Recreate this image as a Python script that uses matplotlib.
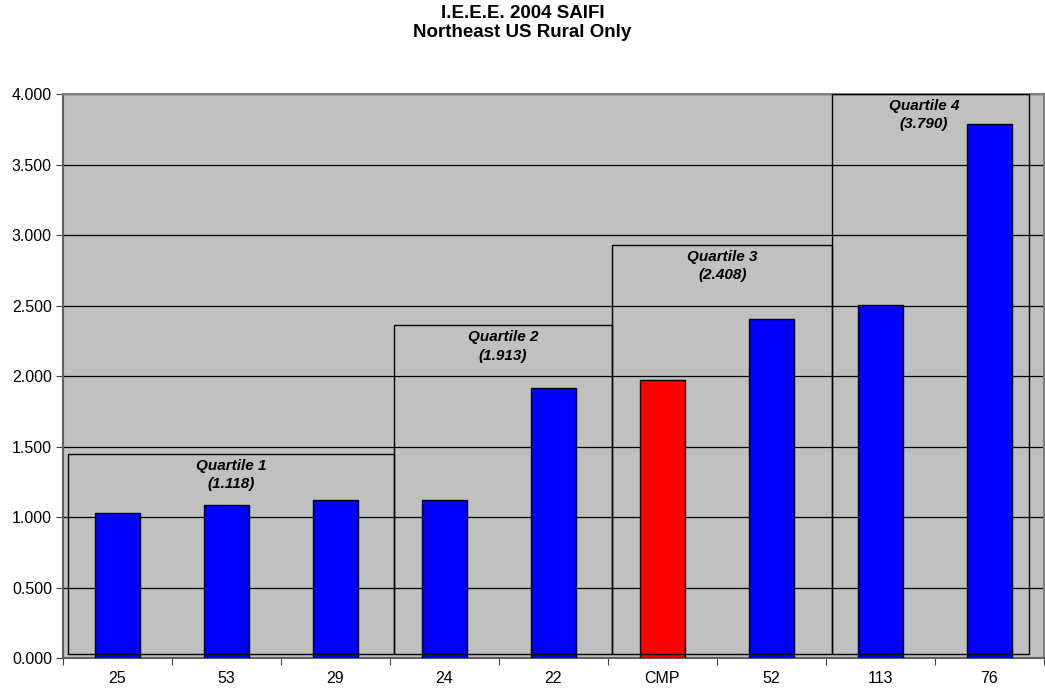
import matplotlib.pyplot as plt
from matplotlib.patches import Rectangle

plt.rcParams['font.family'] = ['Liberation Sans', 'DejaVu Sans']

# SAIFI values by utility
utilities = ['25', '53', '29', '24', '22', 'CMP', '52', '113', '76']
saifi = [1.028, 1.085, 1.118, 1.120, 1.913, 1.975, 2.408, 2.505, 3.790]
bar_colors = ['#0000FF'] * 9
bar_colors[5] = '#FF0000'

# quartile boxes: name, value, x start, x end, top
quartile_names = ['Quartile 1', 'Quartile 2', 'Quartile 3', 'Quartile 4']
quartile_values = [1.118, 1.913, 2.408, 3.790]
box_left = [-0.454, 2.534, 4.54, 6.557]
box_right = [2.534, 4.54, 6.557, 8.36]
box_top = [1.447, 2.36, 2.93, 4.0]
box_bottom = 0.03

fig = plt.figure(figsize=(10.45, 6.92), dpi=100)
ax = fig.add_axes([0.0603, 0.0491, 0.9387, 0.8149])
ax.set_facecolor('#C0C0C0')

x = list(range(len(utilities)))
ax.bar(x, saifi, width=0.41, color=bar_colors, edgecolor='black', linewidth=1, zorder=3)

for i in range(len(quartile_names)):
    r = Rectangle((box_left[i], box_bottom), box_right[i] - box_left[i], box_top[i] - box_bottom,
                  fill=False, edgecolor='black', linewidth=1, zorder=4)
    ax.add_patch(r)
    cx = (box_left[i] + box_right[i]) / 2
    if i == 3:
        cx = 7.4
    ax.text(cx, box_top[i] - 0.035, quartile_names[i] + '\n(%.3f)' % quartile_values[i],
            ha='center', va='top', fontsize=11, fontweight='bold', fontstyle='italic',
            linespacing=1.4, zorder=5)

ax.set_xlim(-0.5, 8.5)
ax.set_ylim(0, 4)
ax.set_yticks([i * 0.5 for i in range(9)])
ax.set_yticklabels(['%.3f' % (i * 0.5) for i in range(9)], fontsize=11.5)
ax.yaxis.grid(True, color='black', linewidth=0.9, zorder=0)
ax.set_axisbelow(True)

ax.set_xticks([i + 0.5 for i in range(-1, 9)])
ax.set_xticklabels([])
ax.set_xticks(x, minor=True)
ax.set_xticklabels(utilities, minor=True, fontsize=11.5)
ax.tick_params(axis='x', which='minor', length=0, pad=9)
ax.tick_params(axis='x', which='major', length=5, color='#404040', direction='out')
ax.tick_params(axis='y', length=5, color='#404040', direction='out', pad=3)

for s in ['top', 'right']:
    ax.spines[s].set_color('#808080')
    ax.spines[s].set_linewidth(1.5)
for s in ['left', 'bottom']:
    ax.spines[s].set_color('#606060')
    ax.spines[s].set_linewidth(1.5)

fig.suptitle('I.E.E.E. 2004 SAIFI\nNortheast US Rural Only', fontsize=13.5, fontweight='bold',
             y=0.993, linespacing=1.15)

fig.savefig('out.png', dpi=100)
